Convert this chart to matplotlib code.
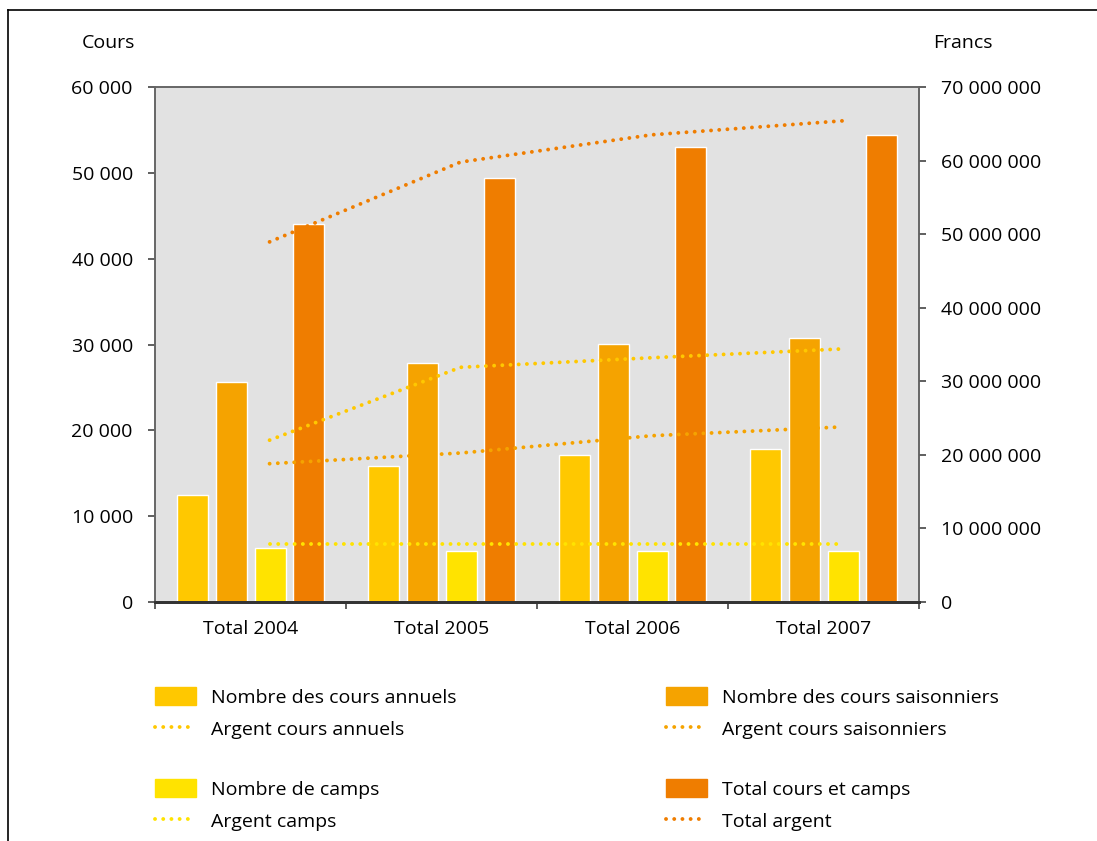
import matplotlib
matplotlib.use('Agg')
import matplotlib.pyplot as plt
import numpy as np
from matplotlib.patches import Patch
from matplotlib.lines import Line2D

plt.rcParams['font.family'] = ['Open Sans', 'DejaVu Sans']
plt.rcParams['font.size'] = 14

# données
categories = ['Total 2004', 'Total 2005', 'Total 2006', 'Total 2007']
cours_annuels = [12450, 15900, 17100, 17800]
cours_saisonniers = [25600, 27900, 30050, 30750]
camps = [6300, 6000, 6000, 6000]
total_cours_camps = [44000, 49400, 53000, 54400]

argent_annuels = [22.0e6, 31.9e6, 33.2e6, 34.4e6]
argent_saisonniers = [18.8e6, 20.25e6, 22.6e6, 23.8e6]
argent_camps = [7.9e6, 7.9e6, 7.9e6, 7.9e6]
argent_total = [48.95e6, 59.8e6, 63.5e6, 65.4e6]

left_ticks = [0, 10000, 20000, 30000, 40000, 50000, 60000]
right_ticks = [0, 10e6, 20e6, 30e6, 40e6, 50e6, 60e6, 70e6]

c_annuels = '#FFC800'
c_saison = '#F5A300'
c_camps = '#FFE300'
c_total = '#EF7D00'

def fmt(v):
    return f"{int(v):,}".replace(',', ' ')

fig = plt.figure(figsize=(10.97, 8.41), dpi=100)
ax = fig.add_axes([155/1097, 1 - 602/841, (919-155)/1097, (602-87)/841])
ax.set_facecolor('#E2E2E2')

x = np.arange(len(categories))
w = 0.16
offs = [-0.304, -0.1, 0.105, 0.304]
series = [(cours_annuels, c_annuels), (cours_saisonniers, c_saison),
          (camps, c_camps), (total_cours_camps, c_total)]
for (vals, col), o in zip(series, offs):
    ax.bar(x + o, vals, width=w, color=col, edgecolor='white', linewidth=1.0, zorder=2)

ax.set_xlim(-0.5, 3.5)
ax.set_ylim(0, 60000)
ax.set_yticks(left_ticks)
ax.set_yticklabels([fmt(v) for v in left_ticks])
ax.set_xticks(x)
ax.set_xticklabels(categories)
ax.set_xticks(np.arange(-0.5, 4.0, 1.0), minor=True)
ax.tick_params(axis='x', which='major', length=0, pad=13)
ax.tick_params(axis='x', which='minor', length=5, width=1.2, color='#444444', direction='out')
ax.tick_params(axis='y', length=5, width=1.2, color='#444444', pad=11)

ax2 = ax.twinx()
ax2.set_ylim(0, 70e6)
ax2.set_yticks(right_ticks)
ax2.set_yticklabels([fmt(v) for v in right_ticks])
ax2.tick_params(axis='y', length=5, width=1.2, color='#444444', pad=11)

dot = (0, (0.01, 2.1))
lx = x + 0.1
lines = [(argent_annuels, c_annuels), (argent_saisonniers, c_saison),
         (argent_camps, c_camps), (argent_total, c_total)]
for vals, col in lines:
    ax2.plot(lx, vals, color=col, linewidth=2.8, linestyle=dot,
             dash_capstyle='round', zorder=3)

for a in (ax, ax2):
    for s in ('left', 'right', 'top'):
        a.spines[s].set_color('#666666')
        a.spines[s].set_linewidth(1.2)
    a.spines['bottom'].set_color('#333333')
    a.spines['bottom'].set_linewidth(2)

fig.text(135/1097, 1 - 43/841, 'Cours', ha='right', va='center', fontsize=14)
fig.text(933/1097, 1 - 43/841, 'Francs', ha='left', va='center', fontsize=14)

# légendes
def leg(handles, labels, xpix, ypix):
    l = fig.legend(handles, labels, loc='center left',
                   bbox_to_anchor=(xpix/1097, 1 - ypix/841),
                   frameon=False, borderpad=0, borderaxespad=0,
                   handlelength=2.1, handleheight=1.05, handletextpad=0.8,
                   labelspacing=0.62, fontsize=14)
    return l

def pline(col):
    return Line2D([0], [0], color=col, linewidth=2.8, linestyle=dot, dash_capstyle='round')

leg([Patch(color=c_annuels), pline(c_annuels)],
    ['Nombre des cours annuels', 'Argent cours annuels'], 155, 713)
leg([Patch(color=c_saison), pline(c_saison)],
    ['Nombre des cours saisonniers', 'Argent cours saisonniers'], 666, 713)
leg([Patch(color=c_camps), pline(c_camps)],
    ['Nombre de camps', 'Argent camps'], 155, 805)
leg([Patch(color=c_total), pline(c_total)],
    ['Total cours et camps', 'Total argent'], 666, 805)

# cadre
fig.add_artist(Line2D([8/1097, 1], [1 - 10/841, 1 - 10/841], color='black', linewidth=1.2,
                      transform=fig.transFigure))
fig.add_artist(Line2D([8/1097, 8/1097], [0, 1 - 10/841], color='black', linewidth=1.2,
                      transform=fig.transFigure))

fig.savefig('out.png', dpi=100)
